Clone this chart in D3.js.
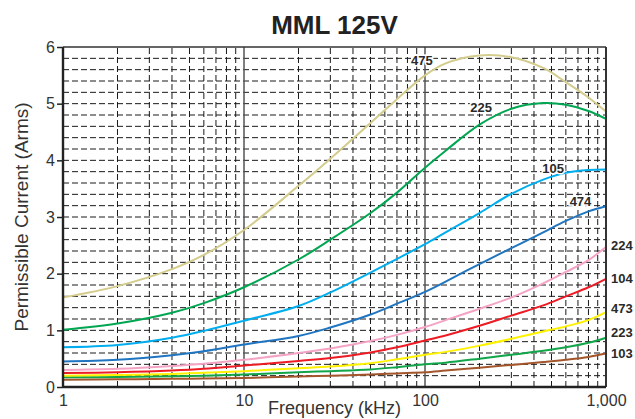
<!DOCTYPE html>
<html>
<head>
<meta charset="utf-8">
<script src="https://cdn.jsdelivr.net/npm/d3@7"></script>
<style>
	body { margin: 0; background: #fff; }
	svg { font-family: "Liberation Sans", Arial, sans-serif; }
	.label { font-size: 13px; font-weight: bold; fill: #2a2a2a; paint-order: stroke; stroke: #fff; stroke-width: 3px; }
</style>
</head>
<body>
<svg id="chart"></svg>
<script>
// frequencies (kHz) sampled along each curve
var freqs = [1, 2, 4, 6, 10, 20, 30, 50, 70, 100, 130, 200, 300, 450, 600, 800, 1000];

// permissible current (Arms) per capacitance code
var v475 = [1.58, 1.78, 2.08, 2.33, 2.77, 3.55, 4.03, 4.66, 5.08, 5.50, 5.71, 5.85, 5.82, 5.63, 5.38, 5.11, 4.86];
var v225 = [1.01, 1.12, 1.31, 1.48, 1.76, 2.25, 2.60, 3.07, 3.43, 3.87, 4.17, 4.63, 4.91, 5.01, 4.98, 4.87, 4.73];
var v105 = [0.70, 0.74, 0.87, 0.99, 1.17, 1.43, 1.67, 2.02, 2.26, 2.52, 2.73, 3.07, 3.41, 3.66, 3.78, 3.83, 3.84];
var v474 = [0.45, 0.48, 0.56, 0.63, 0.75, 0.90, 1.05, 1.28, 1.47, 1.68, 1.86, 2.17, 2.45, 2.73, 2.93, 3.10, 3.19];
var v224 = [0.30, 0.32, 0.37, 0.41, 0.48, 0.60, 0.68, 0.81, 0.92, 1.06, 1.18, 1.38, 1.58, 1.83, 2.03, 2.24, 2.47];
var v104 = [0.245, 0.26, 0.29, 0.32, 0.38, 0.46, 0.51, 0.61, 0.70, 0.82, 0.91, 1.08, 1.26, 1.44, 1.60, 1.76, 1.91];
var v473 = [0.20, 0.21, 0.23, 0.25, 0.28, 0.33, 0.36, 0.42, 0.49, 0.57, 0.62, 0.73, 0.85, 0.98, 1.07, 1.18, 1.32];
var v223 = [0.17, 0.175, 0.19, 0.20, 0.22, 0.26, 0.28, 0.31, 0.35, 0.40, 0.43, 0.50, 0.57, 0.64, 0.70, 0.78, 0.87];
var v103 = [0.13, 0.135, 0.145, 0.15, 0.16, 0.185, 0.20, 0.22, 0.24, 0.26, 0.29, 0.34, 0.39, 0.44, 0.48, 0.53, 0.59];

var names = ["475", "225", "105", "474", "224", "104", "473", "223", "103"];
var colors = ["#d3cc8c", "#00a651", "#00aeef", "#1f75c0", "#f4a3c4", "#ed1c24", "#fff200", "#12a54a", "#a3562b"];
// where each curve's name sits: [frequency, current]
var labelAt = [[96, 5.77], [204, 4.93], [510, 3.86], [723, 3.27], [1000, 2.50], [1000, 1.92], [1000, 1.39], [1000, 0.97], [1000, 0.59]];

var yTicks = [0, 1, 2, 3, 4, 5, 6];
var xTicks = [1, 10, 100, 1000];
var xTickText = ["1", "10", "100", "1,000"];

var width = 635, height = 419;
var margin = { top: 47, right: 29, bottom: 32, left: 63 };

var svg = d3.select("#chart")
	.attr("width", width)
	.attr("height", height);

var x = d3.scaleLog().domain([1, 1000]).range([margin.left, width - margin.right]);
var y = d3.scaleLinear().domain([0, 6]).range([height - margin.bottom, margin.top]);

// horizontal dashed grid every 0.2
var hGrid = d3.range(1, 30).map(function (i) { return i * 0.2; });
svg.append("g").selectAll("line")
	.data(hGrid)
	.enter().append("line")
	.attr("x1", x(1)).attr("x2", x(1000))
	.attr("y1", function (d) { return y(d); })
	.attr("y2", function (d) { return y(d); })
	.attr("stroke", "#1a1a1a")
	.attr("stroke-width", 1)
	.attr("stroke-dasharray", "6,3");

// vertical grid: dashed minors, solid decades
var vMinor = [];
[1, 10, 100].forEach(function (dec) {
	for (var k = 2; k <= 9; k++) vMinor.push(dec * k);
});
svg.append("g").selectAll("line")
	.data(vMinor)
	.enter().append("line")
	.attr("x1", function (d) { return x(d); })
	.attr("x2", function (d) { return x(d); })
	.attr("y1", y(0)).attr("y2", y(6))
	.attr("stroke", "#1a1a1a")
	.attr("stroke-width", 1)
	.attr("stroke-dasharray", "6,3");

svg.append("g").selectAll("line")
	.data([10, 100])
	.enter().append("line")
	.attr("x1", function (d) { return x(d); })
	.attr("x2", function (d) { return x(d); })
	.attr("y1", y(0)).attr("y2", y(6))
	.attr("stroke", "#555")
	.attr("stroke-width", 1.5);

// curves
var line = d3.line()
	.x(function (d) { return x(d[0]); })
	.y(function (d) { return y(d[1]); })
	.curve(d3.curveCatmullRom.alpha(0.5));

var series = [v475, v225, v105, v474, v224, v104, v473, v223, v103].map(function (vals, i) {
	return { name: names[i], color: colors[i], pts: freqs.map(function (f, j) { return [f, vals[j]]; }) };
});

svg.append("g").selectAll("path")
	.data(series.slice().reverse())
	.enter().append("path")
	.attr("d", function (d) { return line(d.pts); })
	.attr("fill", "none")
	.attr("stroke", function (d) { return d.color; })
	.attr("stroke-width", 2);

// frame
svg.append("line")
	.attr("x1", x(1)).attr("x2", x(1000))
	.attr("y1", y(6)).attr("y2", y(6))
	.attr("stroke", "#333").attr("stroke-width", 1.5);
svg.append("line")
	.attr("x1", x(1000)).attr("x2", x(1000))
	.attr("y1", y(6)).attr("y2", y(0))
	.attr("stroke", "#333").attr("stroke-width", 2);

// axes
var yAxis = svg.append("g")
	.attr("transform", "translate(" + x(1) + ",0)")
	.call(d3.axisLeft(y).tickValues(yTicks).tickSize(6).tickPadding(2).tickFormat(d3.format("d")));
var xAxis = svg.append("g")
	.attr("transform", "translate(0," + y(0) + ")")
	.call(d3.axisBottom(x).tickValues(xTicks).tickSize(0).tickPadding(8)
		.tickFormat(function (d, i) { return xTickText[i]; }));

[yAxis, xAxis].forEach(function (a) {
	a.select(".domain").attr("stroke", "#222").attr("stroke-width", 2.4);
	a.selectAll(".tick line").attr("stroke", "#222").attr("stroke-width", 1.5);
	a.selectAll(".tick text").attr("fill", "#333").style("font-size", "16px")
		.style("font-family", "'Liberation Sans', Arial, sans-serif");
});
yAxis.select(".domain").attr("d", "M0," + y(0) + "V" + y(6));
xAxis.select(".domain").attr("d", "M" + x(1) + ",0H" + x(1000));

// curve names
svg.append("g").selectAll("text")
	.data(series)
	.enter().append("text")
	.attr("class", "label")
	.attr("x", function (d, i) { return labelAt[i][0] === 1000 ? x(1000) + 5 : x(labelAt[i][0]); })
	.attr("y", function (d, i) { return y(labelAt[i][1]); })
	.attr("dy", "0.35em")
	.attr("text-anchor", function (d, i) { return labelAt[i][0] === 1000 ? "start" : "middle"; })
	.style("stroke-width", function (d, i) { return labelAt[i][0] === 1000 ? 0 : 3; })
	.text(function (d) { return d.name; });

// titles
svg.append("text")
	.attr("x", (x(1) + x(1000)) / 2)
	.attr("y", 34)
	.attr("text-anchor", "middle")
	.style("font-size", "26px")
	.style("font-weight", "bold")
	.attr("fill", "#222")
	.text("MML 125V");

svg.append("text")
	.attr("x", (x(1) + x(1000)) / 2)
	.attr("y", 414)
	.attr("text-anchor", "middle")
	.style("font-size", "18px")
	.attr("fill", "#333")
	.text("Frequency (kHz)");

svg.append("text")
	.attr("transform", "translate(28," + (y(3)) + ") rotate(-90)")
	.attr("text-anchor", "middle")
	.style("font-size", "19px")
	.attr("fill", "#333")
	.text("Permissible Current (Arms)");
</script>
</body>
</html>
